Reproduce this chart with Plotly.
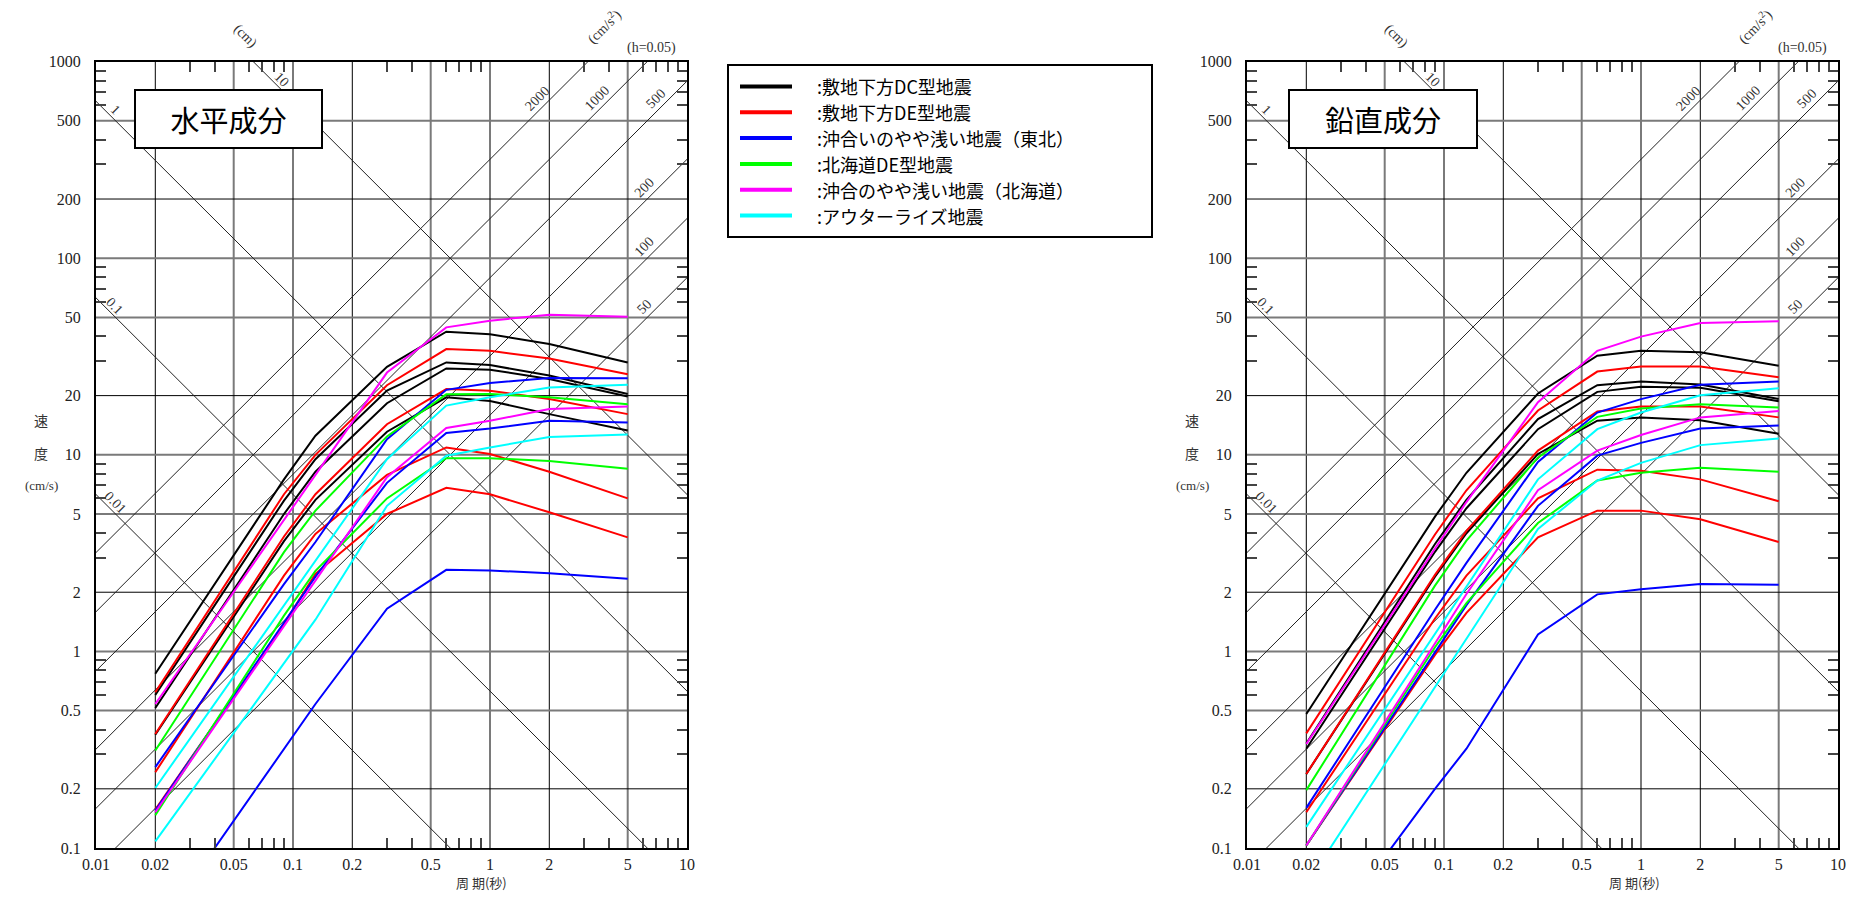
import math
import plotly.graph_objects as go

W, H = 1857, 901          # browser window
OFF = 8                   # default page body margin
FW, FH = W - 2 * OFF, H - 2 * OFF

# ---------------- data ----------------
PERIODS = [0.02, 0.09, 0.13, 0.3, 0.6, 1.0, 2.0, 5.0]

# 水平成分 (horizontal)
H_BLACK = [
    [0.77, 7.5, 12.5, 28.0, 42.3, 41.0, 36.6, 29.5],
    [0.60, 5.85, 9.5, 21.2, 29.5, 28.6, 25.3, 20.4],
    [0.515, 5.0, 8.2, 18.3, 27.5, 27.1, 24.3, 19.8],
    [0.377, 3.64, 5.9, 13.1, 19.6, 18.8, 16.1, 13.3],
]
H_RED = [
    [0.62, 6.3, 10.0, 22.6, 34.5, 33.8, 30.9, 25.7],
    [0.38, 3.84, 6.3, 14.3, 21.6, 21.2, 19.2, 16.1],
    [0.243, 2.43, 3.96, 7.9, 10.9, 10.1, 8.2, 6.0],
    [0.157, 1.38, 2.48, 5.0, 6.8, 6.3, 5.1, 3.8],
]
H_BLUE = [
    [0.258, 2.2, 3.6, 12.0, 21.4, 23.2, 24.6, 24.5],
    [0.155, 1.4, 2.4, 7.2, 12.9, 13.6, 14.9, 14.6],
    [0.037, 0.32, 0.54, 1.65, 2.6, 2.58, 2.5, 2.34],
]
H_GREEN = [
    [0.313, 3.2, 5.2, 12.4, 20.3, 20.4, 19.6, 18.1],
    [0.147, 1.52, 2.57, 6.0, 9.6, 9.6, 9.3, 8.5],
]
H_MAGENTA = [
    [0.54, 4.66, 7.9, 26.2, 44.5, 48.1, 51.6, 50.4],
    [0.152, 1.34, 2.29, 7.7, 13.7, 14.9, 17.1, 17.6],
]
H_CYAN = [
    [0.202, 1.71, 2.9, 9.5, 17.8, 19.6, 22.0, 22.7],
    [0.108, 0.88, 1.45, 5.5, 9.9, 10.9, 12.3, 12.7],
]

# 鉛直成分 (vertical)
V_BLACK = [
    [0.48, 4.85, 8.1, 20.5, 31.9, 33.8, 33.2, 28.4],
    [0.34, 3.52, 5.9, 15.2, 22.6, 23.6, 22.8, 19.2],
    [0.32, 3.21, 5.35, 13.5, 20.9, 22.2, 21.9, 18.7],
    [0.238, 2.4, 3.99, 10.1, 14.9, 15.5, 15.0, 12.8],
]
V_RED = [
    [0.383, 3.93, 6.6, 16.8, 26.5, 28.1, 28.1, 24.8],
    [0.238, 2.45, 4.1, 10.5, 16.6, 17.6, 17.6, 15.5],
    [0.152, 1.47, 2.43, 6.0, 8.4, 8.3, 7.5, 5.8],
    [0.103, 0.96, 1.57, 3.8, 5.2, 5.2, 4.7, 3.6],
]
V_BLUE = [
    [0.160, 1.63, 2.82, 9.2, 16.4, 19.2, 22.7, 23.6],
    [0.103, 1.0, 1.72, 5.5, 9.9, 11.5, 13.6, 14.1],
    [0.026, 0.2, 0.32, 1.22, 1.95, 2.07, 2.2, 2.18],
]
V_GREEN = [
    [0.197, 2.16, 3.66, 9.7, 15.6, 17.2, 18.1, 17.4],
    [0.103, 1.05, 1.76, 4.5, 7.4, 8.1, 8.6, 8.2],
]
V_MAGENTA = [
    [0.338, 3.34, 5.75, 18.5, 33.8, 39.9, 46.8, 47.8],
    [0.103, 1.11, 1.96, 6.6, 10.5, 12.6, 15.5, 16.7],
]
V_CYAN = [
    [0.128, 1.22, 2.13, 7.5, 13.5, 16.4, 20.1, 21.8],
    [0.065, 0.66, 1.16, 4.2, 7.4, 9.1, 11.2, 12.1],
]

LEGEND_LABELS = [
    "敷地下方DC型地震",
    "敷地下方DE型地震",
    "沖合いのやや浅い地震（東北）",
    "北海道DE型地震",
    "沖合のやや浅い地震（北海道）",
    "アウターライズ地震",
]
COLORS = ["#000000", "#ff0000", "#0000ff", "#00ff00", "#ff00ff", "#00ffff"]

H_GROUPS = [H_BLACK, H_RED, H_BLUE, H_GREEN, H_MAGENTA, H_CYAN]
V_GROUPS = [V_BLACK, V_RED, V_BLUE, V_GREEN, V_MAGENTA, V_CYAN]

ACCEL = [2000, 1000, 500, 200, 100, 50]      # cm/s^2
DISP = [10, 1, 0.1, 0.01]                    # cm

X_TICKS = [0.01, 0.02, 0.05, 0.1, 0.2, 0.5, 1, 2, 5, 10]
X_TICK_TEXT = ["0.01", "0.02", "0.05", "0.1", "0.2", "0.5", "1", "2", "5", "10"]
Y_TICKS = [0.1, 0.2, 0.5, 1, 2, 5, 10, 20, 50, 100, 200, 500, 1000]
Y_TICK_TEXT = ["0.1", "0.2", "0.5", "1", "2", "5", "10", "20", "50", "100", "200", "500", "1000"]
MINOR_MULT = [3, 4, 6, 7, 8, 9]
X_MINOR = [d * m for d in (0.01, 0.1, 1) for m in MINOR_MULT]
Y_MINOR = [d * m for d in (0.1, 1, 10, 100) for m in MINOR_MULT]

TITLES = ["水平成分", "鉛直成分"]

# ---------------- layout geometry (window pixels) ----------------
PANELS = [
    dict(xa="x", ya="y", xdom=(96, 687), box=(134, 89, 323, 149), groups=H_GROUPS,
         ytitle_x=41, xtitle_x=481),
    dict(xa="x2", ya="y2", xdom=(1247, 1838), box=(1288, 89, 1478, 149), groups=V_GROUPS,
         ytitle_x=1192, xtitle_x=1634),
]
YDOM_PX = (61.6, 848.0)
TWO_PI = 2 * math.pi

SERIF = "Liberation Serif"
CJK = "Noto Sans CJK JP"


def px(x):
    return (x - OFF) / FW


def py(y):
    return 1 - (y - OFF) / FH


def lead_digit(v):
    return round(v / 10 ** math.floor(math.log10(v) + 1e-9))


def note(**kw):
    base = dict(showarrow=False, xanchor="center", yanchor="middle")
    base.update(kw)
    return base


fig = go.Figure()
shapes = []
annotations = []

for pi, p in enumerate(PANELS):
    xa, ya = p["xa"], p["ya"]
    # guide lines: constant acceleration
    for a in ACCEL:
        fig.add_trace(go.Scatter(
            x=[X_TICKS[0], X_TICKS[-1]],
            y=[a * X_TICKS[0] / TWO_PI, a * X_TICKS[-1] / TWO_PI],
            mode="lines", line=dict(color="#222222", width=1),
            xaxis=xa, yaxis=ya, showlegend=False, hoverinfo="skip"))
        if a >= 500:
            vl = 600.0
            tl = TWO_PI * vl / a
        else:
            tl = 6.6
            vl = a * tl / TWO_PI
        annotations.append(note(
            x=math.log10(tl), y=math.log10(vl), xref=xa, yref=ya, text=str(a),
            textangle=-45, xshift=-7, yshift=7,
            font=dict(family=SERIF, size=14, color="#333333")))
    # guide lines: constant displacement
    for d in DISP:
        fig.add_trace(go.Scatter(
            x=[X_TICKS[0], X_TICKS[-1]],
            y=[TWO_PI * d / X_TICKS[0], TWO_PI * d / X_TICKS[-1]],
            mode="lines", line=dict(color="#222222", width=1),
            xaxis=xa, yaxis=ya, showlegend=False, hoverinfo="skip"))
        if d >= 10:
            vl = 760.0
            tl = TWO_PI * d / vl
        else:
            tl = 0.0118
            vl = TWO_PI * d / tl
        annotations.append(note(
            x=math.log10(tl), y=math.log10(vl), xref=xa, yref=ya, text=f"{d:g}",
            textangle=45, xshift=5, yshift=6,
            font=dict(family=SERIF, size=14, color="#333333")))

    # spectra
    for color, group in zip(COLORS, p["groups"]):
        for vals in group:
            fig.add_trace(go.Scatter(
                x=PERIODS, y=vals, mode="lines",
                line=dict(color=color, width=2),
                xaxis=xa, yaxis=ya, showlegend=False))

    # grid lines
    for v in X_TICKS[1:-1]:
        ld = lead_digit(v)
        shapes.append(dict(type="line", xref=xa, yref=ya + " domain", x0=v, x1=v, y0=0, y1=1,
                           layer="below",
                           line=dict(color="#000000" if ld == 2 else "#7a7a7a",
                                     width=1 if ld == 2 else 2)))
    for v in Y_TICKS[1:-1]:
        ld = lead_digit(v)
        shapes.append(dict(type="line", xref=xa + " domain", yref=ya, x0=0, x1=1, y0=v, y1=v,
                           layer="below",
                           line=dict(color="#000000" if ld == 2 else "#7a7a7a",
                                     width=1 if ld == 2 else 2)))

    # title box
    bx0, by0, bx1, by1 = p["box"]
    annotations.append(note(
        x=px((bx0 + bx1) / 2), y=py((by0 + by1) / 2), xref="paper", yref="paper",
        text=TITLES[pi], width=bx1 - bx0 - 4, height=by1 - by0 - 4, borderpad=0,
        bordercolor="#000000", borderwidth=2, bgcolor="#ffffff",
        font=dict(family=CJK, size=29, color="#000000")))

    # y title
    x0 = p["xdom"][0]
    for txt, yy, fam, fs in (("速", 420, CJK, 14), ("度", 453, CJK, 14), ("(cm/s)", 485, SERIF, 13)):
        annotations.append(note(x=px(p["ytitle_x"]), y=py(yy), xref="paper", yref="paper",
                                text=txt, font=dict(family=fam, size=fs, color="#333333")))
    # x title
    annotations.append(note(x=px(p["xtitle_x"]), y=py(882), xref="paper", yref="paper",
                            text="周 期(秒)", font=dict(family=CJK, size=13, color="#333333")))
    # unit labels
    annotations.append(note(x=px(x0 + 149), y=py(36), xref="paper", yref="paper",
                            text="(cm)", textangle=45,
                            font=dict(family=SERIF, size=14, color="#333333")))
    annotations.append(note(x=px(x0 + 508), y=py(27), xref="paper", yref="paper",
                            text="(cm/s<sup>2</sup>)", textangle=-45,
                            font=dict(family=SERIF, size=14, color="#333333")))
    annotations.append(note(x=px(x0 + 555), y=py(48), xref="paper", yref="paper",
                            text="(h=0.05)", font=dict(family=SERIF, size=14, color="#333333")))

# legend box
LX0, LY0, LX1, LY1 = 728, 65, 1152, 237
shapes.append(dict(type="rect", xref="paper", yref="paper", x0=px(LX0), x1=px(LX1),
                   y0=py(LY0), y1=py(LY1), line=dict(color="#000000", width=2),
                   fillcolor="#ffffff", layer="above"))
for i, (lab, col) in enumerate(zip(LEGEND_LABELS, COLORS)):
    yy = 86.5 + 25.8 * i
    shapes.append(dict(type="line", xref="paper", yref="paper", x0=px(740), x1=px(792),
                       y0=py(yy), y1=py(yy), line=dict(color=col, width=4), layer="above"))
    annotations.append(note(x=px(815), y=py(yy), xref="paper", yref="paper",
                            text=":" + lab, xanchor="left",
                            font=dict(family=CJK, size=18, color="#000000")))

# axes
ydom = [py(YDOM_PX[1]), py(YDOM_PX[0])]
for pi, p in enumerate(PANELS):
    sfx = "" if pi == 0 else str(pi + 1)
    xdom = [px(p["xdom"][0]), px(p["xdom"][1])]
    fig.update_layout(**{
        "xaxis" + sfx: dict(
            type="log", domain=xdom, range=[-2, 1], anchor="y" + sfx, automargin=False,
            tickvals=X_TICKS, ticktext=X_TICK_TEXT, ticks="", showgrid=False,
            zeroline=False, showline=True, linecolor="#000000", linewidth=2,
            mirror="allticks", ticklabelstandoff=1,
            tickfont=dict(family=SERIF, size=16, color="#222222"),
            minor=dict(tickvals=X_MINOR, ticks="inside", ticklen=10,
                       tickcolor="#444444", tickwidth=1.5, showgrid=False)),
        "yaxis" + sfx: dict(
            type="log", domain=ydom, range=[-1, 3], anchor="x" + sfx, automargin=False,
            tickvals=Y_TICKS, ticktext=Y_TICK_TEXT, ticks="", showgrid=False,
            zeroline=False, showline=True, linecolor="#000000", linewidth=2,
            mirror="allticks", ticklabelstandoff=10,
            tickfont=dict(family=SERIF, size=16, color="#222222"),
            minor=dict(tickvals=Y_MINOR, ticks="inside", ticklen=10,
                       tickcolor="#444444", tickwidth=1.5, showgrid=False)),
    })

fig.update_layout(
    width=FW, height=FH, margin=dict(l=0, r=0, t=0, b=0, autoexpand=False),
    paper_bgcolor="#ffffff", plot_bgcolor="#ffffff",
    showlegend=False, shapes=shapes, annotations=annotations,
)

fig.write_html("out.html")
